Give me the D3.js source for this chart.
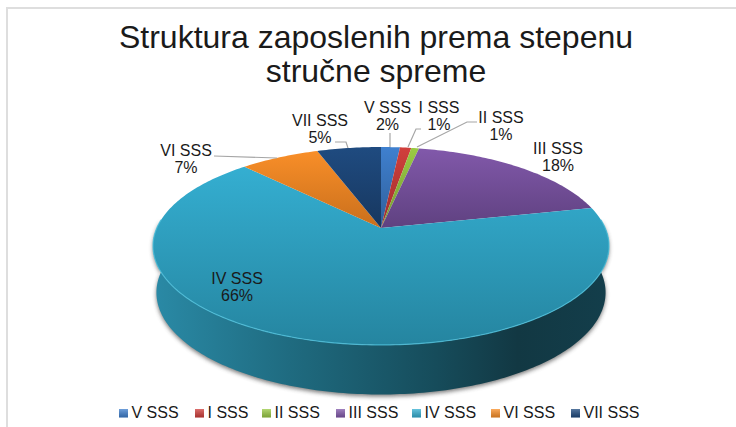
<!DOCTYPE html>
<html>
<head>
<meta charset="utf-8">
<script src="https://cdn.jsdelivr.net/npm/d3@7"></script>
<style>
  html, body { margin: 0; padding: 0; background: #fff; }
  svg { display: block; }
  text { font-family: "Liberation Sans", Arial, sans-serif; fill: #1a1a1a; }
</style>
</head>
<body>
<div id="chart"></div>
<script>
const categories = ['V SSS', 'I SSS', 'II SSS', 'III SSS', 'IV SSS', 'VI SSS', 'VII SSS'];
const shares = [1.6, 0.95, 0.65, 18.3, 66.4, 6.7, 5.4];
const titleLines = ['Struktura zaposlenih prema stepenu', 'stručne spreme'];
const colorsLight = ['#3f80cf', '#d13f3c', '#9bcb45', '#8259ab', '#35b0d3', '#fb9029', '#1f4b80'];
const colorsDark = ['#2f5f9a', '#9c2f2d', '#74982f', '#5f4180', '#2585a0', '#c96f1c', '#17375f'];

const width = 736;
const height = 427;

// where each label sits, and the elbow of its leader line if it has one
const labelPos = [
  { x: 387.5, y: 113 },
  { x: 439, y: 113 },
  { x: 501, y: 123 },
  { x: 558, y: 154 },
  { x: 237, y: 284 },
  { x: 186, y: 156 },
  { x: 320, y: 126 },
];
const leaders = [
  [[390, 133], [390, 147]],
  [[421, 129], [416, 129], [408, 147]],
  [[477, 122], [467, 122], [417, 147]],
  null,
  null,
  [[214, 156], [277, 158]],
  [[335, 142], [346, 142], [348, 148]],
];

const svg = d3.select('#chart').append('svg')
  .attr('width', width)
  .attr('height', height);

const defs = svg.append('defs');

categories.forEach((c, i) => {
  const g = defs.append('linearGradient')
    .attr('id', `top${i}`)
    .attr('gradientUnits', 'userSpaceOnUse')
    .attr('x1', 0).attr('x2', 0)
    .attr('y1', i === 4 ? 160 : 147)
    .attr('y2', i === 4 ? 345 : 228);
  g.append('stop').attr('offset', '0%').attr('stop-color', colorsLight[i]);
  g.append('stop').attr('offset', '100%').attr('stop-color', colorsDark[i]);
});

const wall = defs.append('linearGradient')
  .attr('id', 'wall')
  .attr('gradientUnits', 'userSpaceOnUse')
  .attr('x1', 153).attr('x2', 609).attr('y1', 0).attr('y2', 0);
[['0%', '#2a8aa6'], ['30%', '#1f6b80'], ['62%', '#164c5b'], ['80%', '#123843'], ['100%', '#133e4b']]
  .forEach(([o, c]) => wall.append('stop').attr('offset', o).attr('stop-color', c));

const blur = defs.append('filter').attr('id', 'soft')
  .attr('x', '-5%').attr('y', '-5%').attr('width', '110%').attr('height', '110%');
blur.append('feGaussianBlur').attr('stdDeviation', 2);

const legendGrad = defs.append('linearGradient')
  .attr('id', 'swatchShine').attr('x1', 0).attr('x2', 0).attr('y1', 0).attr('y2', 1);
legendGrad.append('stop').attr('offset', '0%').attr('stop-color', '#fff').attr('stop-opacity', 0.25);
legendGrad.append('stop').attr('offset', '100%').attr('stop-color', '#000').attr('stop-opacity', 0.2);

// frame of the chart area, only top and left show in the crop
svg.append('path')
  .attr('d', `M7,${height} V8 H${width}`)
  .attr('fill', 'none')
  .attr('stroke', '#dedede')
  .attr('stroke-width', 2);

const title = svg.append('g').attr('text-anchor', 'middle');
title.selectAll('text').data(titleLines).join('text')
  .attr('x', 376)
  .attr('y', (d, i) => 47.5 + i * 34)
  .attr('font-size', 32)
  .attr('fill', '#111')
  .text(d => d);

// tilted disc: a circle under a projective map, so the apex is not the ellipse centre
const apex = { x: 381, y: 228 };
const persp = 0.1818;
const radX = 224.2;
const radY = 95.7;
const project = (angle) => {
  const u = Math.sin(angle);
  const v = Math.cos(angle);
  const w = 1 + persp * v;
  return [apex.x + radX * u / w, apex.y - radY * v / w];
};

const pie = d3.pie().sort(null).value(d => d);
const arcs = pie(shares);

const sliceArc = (a) => {
  const n = Math.max(2, Math.ceil((a.endAngle - a.startAngle) * 60));
  const pts = d3.range(n + 1).map(k => project(a.startAngle + (a.endAngle - a.startAngle) * k / n));
  return d3.line()([[apex.x, apex.y], ...pts]) + 'Z';
};

// wall: outline of the disc pushed down, slightly narrower at the bottom
const depth = 46;
const shrink = 0.985;
const lower = (p) => [apex.x + (p[0] - apex.x) * shrink, p[1] + depth + (p[1] - apex.y) * 0.03];

const rimAngles = d3.range(0, 361).map(a => a * Math.PI / 180);
const rimTop = rimAngles.map(project);
const frontTop = rimTop.filter((p, i) => rimAngles[i] > Math.PI * 0.47 && rimAngles[i] < Math.PI * 1.53);
const wallPath = d3.line()([...frontTop, ...frontTop.slice().reverse().map(lower)]) + 'Z';

svg.append('path')
  .attr('d', wallPath)
  .attr('fill', '#444')
  .attr('opacity', 0.7)
  .attr('transform', 'translate(0,2)')
  .attr('filter', 'url(#soft)');

svg.append('path')
  .attr('d', wallPath)
  .attr('fill', 'url(#wall)');

svg.append('g').selectAll('path').data(arcs).join('path')
  .attr('d', sliceArc)
  .attr('fill', (d, i) => `url(#top${i})`);

// bevel highlight along the front rim of the top face
svg.append('path')
  .attr('d', d3.line()(frontTop))
  .attr('fill', 'none')
  .attr('stroke', '#4fc0dc')
  .attr('stroke-opacity', 0.8)
  .attr('stroke-width', 1.2);

// leader lines
svg.append('g').selectAll('path')
  .data(leaders.filter(Boolean)).join('path')
  .attr('d', d3.line())
  .attr('fill', 'none')
  .attr('stroke', '#a6a6a6')
  .attr('stroke-width', 1.2);

const fmt = (v) => `${Math.round(v)}%`;
const labels = svg.append('g').attr('text-anchor', 'middle').attr('font-size', 16);
labels.selectAll('g').data(categories).join('g')
  .attr('transform', (d, i) => `translate(${labelPos[i].x},${labelPos[i].y})`)
  .each(function (d, i) {
    const g = d3.select(this);
    g.append('text').text(d);
    g.append('text').attr('y', 16.5).text(fmt(shares[i]));
  });

// legend
const legendX = d3.scaleOrdinal()
  .domain(categories)
  .range([119, 195, 262, 336, 412, 491, 571]);
const legend = svg.append('g').attr('font-size', 16);
const items = legend.selectAll('g').data(categories).join('g')
  .attr('transform', d => `translate(${legendX(d)},409)`);
items.append('rect').attr('width', 9).attr('height', 8.5).attr('fill', (d, i) => colorsLight[i]);
items.append('rect').attr('width', 9).attr('height', 8.5).attr('fill', 'url(#swatchShine)');
items.append('text').attr('x', 12.5).attr('y', 8.5).text(d => d);
</script>
</body>
</html>
